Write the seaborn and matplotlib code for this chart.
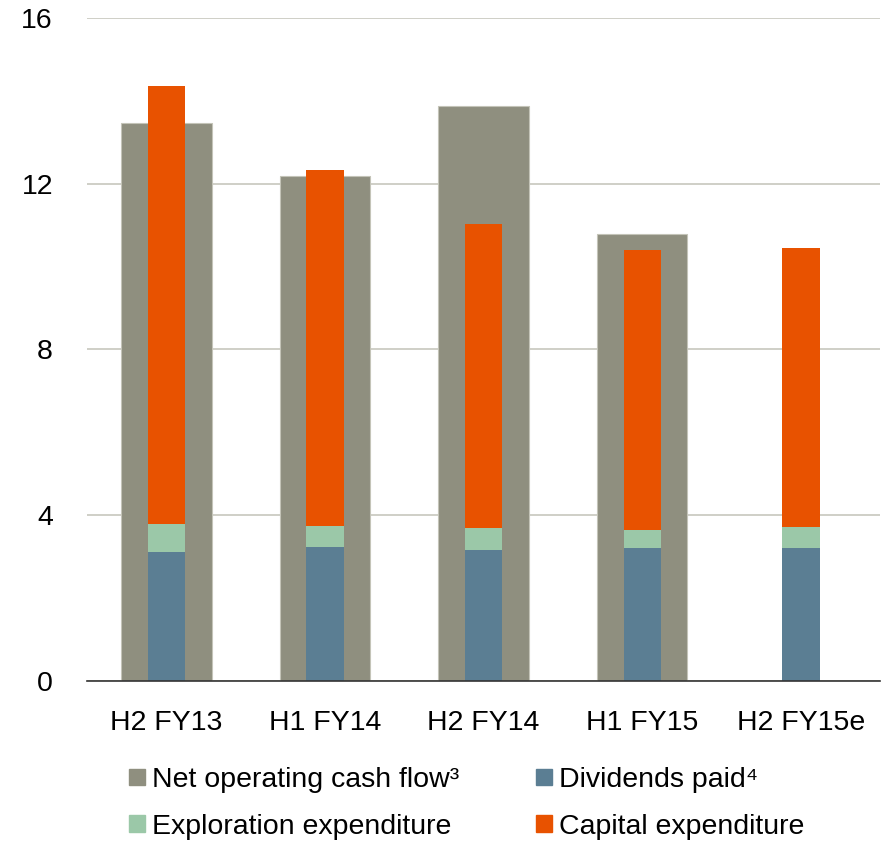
import numpy as np
import pandas as pd
import seaborn as sns
import matplotlib.pyplot as plt
from matplotlib.patches import Patch

periods = ['H2 FY13', 'H1 FY14', 'H2 FY14', 'H1 FY15', 'H2 FY15e']
net_operating_cash_flow = [13.47, 12.19, 13.88, 10.78, np.nan]
dividends_paid = [3.11, 3.23, 3.17, 3.22, 3.22]
exploration_exp = [0.67, 0.51, 0.51, 0.42, 0.50]
capital_exp = [10.59, 8.58, 7.36, 6.76, 6.73]

c_ocf = '#8f8f7f'
c_div = '#5b7e93'
c_expl = '#9bc8a8'
c_capex = '#e85200'

df = pd.DataFrame({'period': periods,
                   'ocf': net_operating_cash_flow,
                   'div': dividends_paid,
                   'expl': exploration_exp,
                   'capex': capital_exp})
# cumulative tops for the stacked bar (drawn back to front)
df['div_expl'] = df['div'] + df['expl']
df['total'] = df['div_expl'] + df['capex']

sns.set_style('white')
plt.rcParams['font.family'] = ['Liberation Sans', 'DejaVu Sans']
plt.rcParams['text.color'] = 'black'
plt.rcParams['xtick.color'] = 'black'
plt.rcParams['ytick.color'] = 'black'

fig = plt.figure(figsize=(8.82, 8.41), dpi=100)
ax = fig.add_axes([0.0986, 0.1903, 0.8994, 0.7883])

sns.barplot(data=df, x='period', y='ocf', order=periods, color=c_ocf,
            width=0.57, saturation=1, linewidth=0.8, edgecolor='#c4c4b8', ax=ax)
sns.barplot(data=df, x='period', y='total', order=periods, color=c_capex,
            width=0.235, saturation=1, linewidth=0, ax=ax)
sns.barplot(data=df, x='period', y='div_expl', order=periods, color=c_expl,
            width=0.235, saturation=1, linewidth=0, ax=ax)
sns.barplot(data=df, x='period', y='div', order=periods, color=c_div,
            width=0.235, saturation=1, linewidth=0, ax=ax)

ax.set_xlim(-0.5, 4.5)
ax.set_ylim(0, 16)
ax.set_yticks([0, 4, 8, 12, 16])
ax.set_xlabel('')
ax.set_ylabel('')
ax.yaxis.grid(True, color='#cbcbc3', linewidth=1.3)
ax.set_axisbelow(True)
for s in ['top', 'right', 'left']:
    ax.spines[s].set_visible(False)
ax.spines['bottom'].set_color('#333333')
ax.spines['bottom'].set_linewidth(1.2)
ax.spines['bottom'].set_zorder(5)
ax.tick_params(axis='y', length=0, pad=24.5, labelsize=20.5)
ax.tick_params(axis='x', length=0, pad=21, labelsize=20.5)

handles = [Patch(color=c_ocf, label='Net operating cash flow³'),
           Patch(color=c_expl, label='Exploration expenditure'),
           Patch(color=c_div, label='Dividends paid⁴'),
           Patch(color=c_capex, label='Capital expenditure')]
fig.legend(handles=handles, ncol=2, loc='upper left',
           bbox_to_anchor=(129 / 882, 1 - 767 / 841), frameon=False,
           fontsize=20.5, handlelength=0.56, handleheight=0.53,
           handletextpad=0.25, columnspacing=2.7, labelspacing=0.72,
           borderpad=0, borderaxespad=0)

fig.savefig('out.png', dpi=100)
